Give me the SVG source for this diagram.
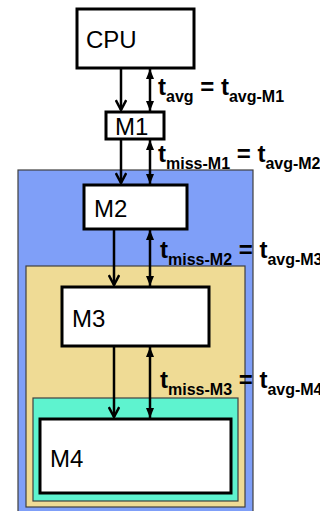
<svg xmlns="http://www.w3.org/2000/svg" width="320" height="511" viewBox="0 0 320 511">
<style>
.box{fill:#fff;stroke:#000;stroke-width:3}
.lvl{stroke:#404040;stroke-width:1.2}
.name{font-family:"Liberation Sans",Arial,sans-serif;font-size:24px;fill:#000}
.lab{font-family:"Liberation Sans",Arial,sans-serif;font-weight:bold;font-size:24px;fill:#000}
.sub{font-size:16px}
.ln{stroke:#000;stroke-width:2.5;fill:none}
</style>
<defs>
<marker id="v" viewBox="0 0 12 12" refX="11" refY="6" markerWidth="12" markerHeight="12" markerUnits="userSpaceOnUse" orient="auto">
<path d="M1,0.8 L11,6 L1,11.2" fill="none" stroke="#000" stroke-width="2.5"/>
</marker>
<marker id="tri" viewBox="0 0 10 8" refX="10" refY="4" markerWidth="10" markerHeight="8" markerUnits="userSpaceOnUse" orient="auto-start-reverse">
<path d="M0,0 L10,4 L0,8 Z" fill="#000"/>
</marker>
</defs>
<g id="level2"><rect class="lvl" x="18" y="170" width="235" height="345" fill="#7f9ff8"/></g>
<g id="level3"><rect class="lvl" x="26" y="266" width="219" height="241" fill="#efdb95"/></g>
<g id="level4"><rect class="lvl" x="33" y="398" width="205" height="103" fill="#5ef3cf"/></g>
<g id="cpu"><rect class="box" x="77" y="9" width="117" height="59"/><text class="name" x="86" y="48">CPU</text></g>
<g id="m1"><rect class="box" x="106" y="112" width="58" height="27"/><text class="name" x="115" y="135">M1</text></g>
<g id="m2"><rect class="box" x="84" y="185" width="103" height="44"/><text class="name" x="94" y="217">M2</text></g>
<g id="m3"><rect class="box" x="62" y="287" width="147" height="59"/><text class="name" x="72" y="327">M3</text></g>
<g id="m4"><rect class="box" x="40" y="419" width="191" height="74"/><text class="name" x="50" y="467">M4</text></g>
<g id="connectors">
<line class="ln" x1="121" y1="69" x2="121" y2="110" marker-end="url(#v)"/>
<line class="ln" x1="150" y1="69" x2="150" y2="111" marker-start="url(#tri)" marker-end="url(#tri)"/>
<line class="ln" x1="121" y1="140" x2="121" y2="183" marker-end="url(#v)"/>
<line class="ln" x1="150" y1="140" x2="150" y2="184" marker-start="url(#tri)" marker-end="url(#tri)"/>
<line class="ln" x1="114" y1="230" x2="114" y2="285" marker-end="url(#v)"/>
<line class="ln" x1="150" y1="230" x2="150" y2="286" marker-start="url(#tri)" marker-end="url(#tri)"/>
<line class="ln" x1="114" y1="347" x2="114" y2="417" marker-end="url(#v)"/>
<line class="ln" x1="150" y1="347" x2="150" y2="418" marker-start="url(#tri)" marker-end="url(#tri)"/>
</g>
<g id="labels">
<text class="lab" x="158" y="95">t<tspan class="sub" dy="7">avg</tspan><tspan dy="-7"> = t</tspan><tspan class="sub" dy="7">avg-M1</tspan></text>
<text class="lab" x="158" y="162">t<tspan class="sub" dy="7">miss-M1</tspan><tspan dy="-7"> = t</tspan><tspan class="sub" dy="7">avg-M2</tspan></text>
<text class="lab" x="160" y="258">t<tspan class="sub" dy="7">miss-M2</tspan><tspan dy="-7"> = t</tspan><tspan class="sub" dy="7">avg-M3</tspan></text>
<text class="lab" x="160" y="388">t<tspan class="sub" dy="7">miss-M3</tspan><tspan dy="-7"> = t</tspan><tspan class="sub" dy="7">avg-M4</tspan></text>
</g>
</svg>
